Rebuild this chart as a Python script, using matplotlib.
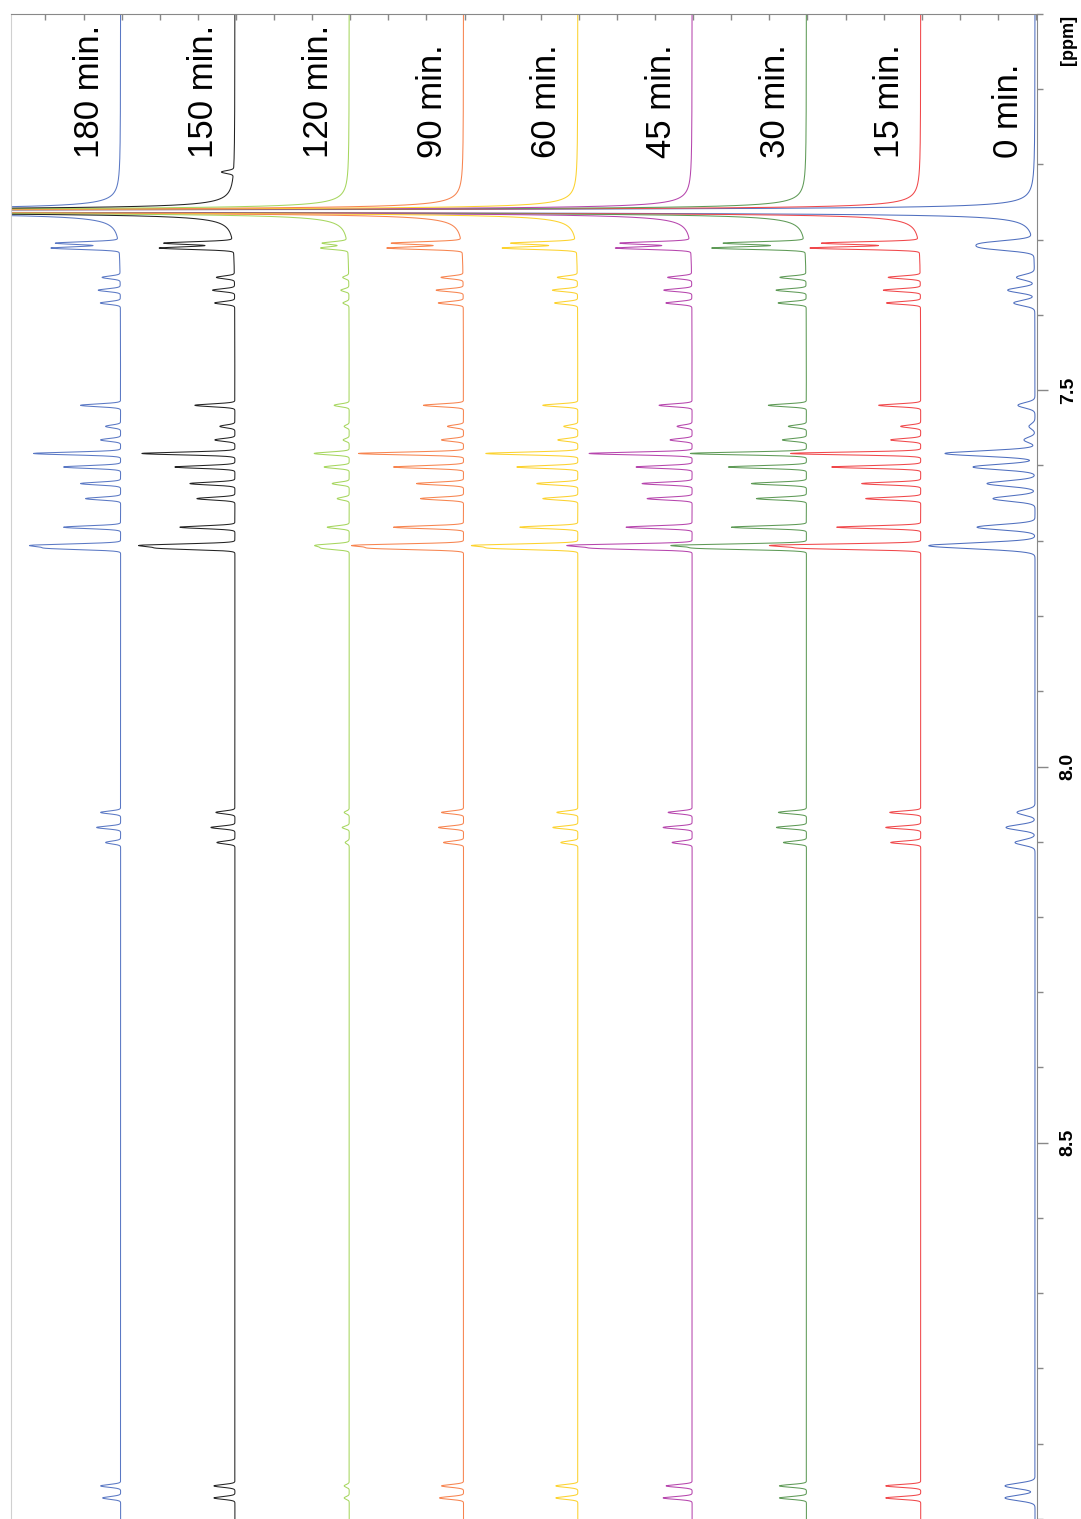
# Spectres RMN 1H empilés (suivi cinétique), tracé tourné de 90°
import numpy as np
import matplotlib
matplotlib.use('Agg')
import matplotlib.pyplot as plt
import matplotlib.transforms as mtransforms

# étiquettes et couleurs des spectres (de droite à gauche)
labels = ['0 min.', '15 min.', '30 min.', '45 min.', '60 min.',
          '90 min.', '120 min.', '150 min.', '180 min.']
couleurs = ['#4f6fbf', '#f0474a', '#5e9a56', '#b645ad', '#fcd22e',
            '#f7844f', '#a6d65e', '#222222', '#5a78c4']

# signal du solvant (CDCl3)
solvant_ppm = 7.262
solvant_h = [4000, 4000, 4000, 4000, 4000, 4000, 4000, 4000, 4000]

# déplacements chimiques des pics (ppm)
pics_ppm = [7.210, 7.3045, 7.311, 7.350, 7.367, 7.384, 7.520, 7.548, 7.566,
            7.584, 7.602, 7.624, 7.644, 7.682, 7.706, 7.710,
            8.061, 8.081, 8.101, 8.956, 8.972]

# hauteurs, pour chaque spectre
h_0 = [0, 44, 44, 18, 27, 21, 17, 6, 11, 90, 62, 48, 42, 58, 92, 25, 18, 29, 20, 30, 30]
h_15 = [0, 97, 109, 32, 37, 34, 42, 20, 30, 130, 89, 59, 55, 84, 140, 109, 31, 35, 30, 35, 35]
h_30 = [0, 81, 93, 26, 30, 28, 38, 18, 24, 116, 78, 55, 50, 75, 125, 101, 28, 30, 23, 27, 27]
h_45 = [0, 70, 75, 24, 28, 26, 33, 15, 22, 103, 56, 50, 45, 66, 116, 90, 24, 29, 20, 26, 29]
h_60 = [0, 65, 74, 20, 25, 23, 35, 14, 20, 92, 61, 41, 35, 58, 98, 80, 21, 25, 17, 22, 22]
h_90 = [0, 70, 75, 22, 27, 25, 40, 16, 22, 105, 70, 47, 43, 70, 103, 85, 22, 25, 20, 22, 24]
h_120 = [0, 25, 27, 6, 8, 6, 15, 5, 6, 35, 25, 17, 12, 22, 32, 25, 5, 7, 4, 5, 5]
h_150 = [12, 69, 74, 18, 22, 20, 40, 15, 20, 93, 60, 45, 38, 55, 89, 70, 19, 24, 18, 21, 21]
h_180 = [0, 63, 68, 18, 22, 20, 40, 15, 20, 87, 57, 40, 35, 57, 84, 68, 20, 24, 15, 20, 18]
hauteurs = [h_0, h_15, h_30, h_45, h_60, h_90, h_120, h_150, h_180]

# largeurs de raie (ppm)
sigmas = [0.0035, 0.0018, 0.0018, 0.0018, 0.0018, 0.0018, 0.0018, 0.0018, 0.0018]
largeur_solvant = [0.001, 0.001, 0.001, 0.001, 0.001, 0.001, 0.001, 0.001, 0.001]

# graduations de l'axe ppm
ticks_ppm = [7.5, 8.0, 8.5]
ticks_txt = ['7.5', '8.0', '8.5']

# paramètres du tracé
decalage = 114.3   # écart entre spectres
ppm = np.linspace(7.0, 9.0, 20001)


def lorentz(x, x0, h, w):
    return h * w**2 / ((x - x0)**2 + w**2)


def gauss(x, x0, h, s):
    return h * np.exp(-0.5 * ((x - x0) / s)**2)


fig = plt.figure(figsize=(10.81, 15.19), dpi=100)
ax = fig.add_axes([11/1081, 0.0, 1026/1081, 1505/1519])

for k in range(len(labels)):
    spectre = lorentz(ppm, solvant_ppm, solvant_h[k], largeur_solvant[k])
    for p, h in zip(pics_ppm, hauteurs[k]):
        spectre = spectre + gauss(ppm, p, h, sigmas[k])
    base = 2 + decalage * k
    ax.plot(base + spectre, ppm, color=couleurs[k], lw=0.75)
    dx = 27 if k == 0 else 31
    ax.text(base + dx, 7.191, labels[k], rotation=90, ha='center', va='bottom',
            fontsize=25, family='Liberation Sans')

ax.set_xlim(1026, 0)
ax.set_ylim(9.0, 7.0)

# axe ppm à droite
ax.yaxis.tick_right()
ax.set_yticks(ticks_ppm)
ax.set_yticks(np.arange(7.0, 9.01, 0.1), minor=True)
ax.tick_params(axis='y', which='major', direction='out', length=8,
               width=1, color='#888888', labelright=False)
ax.tick_params(axis='y', which='minor', direction='out', length=4.5,
               width=1, color='#888888')
trans = mtransforms.blended_transform_factory(ax.transAxes, ax.transData)
for t, s in zip(ticks_ppm, ticks_txt):
    ax.text(1.0305, t, s, transform=trans, rotation=90, ha='center',
            va='center', fontweight='bold', fontsize=14,
            family='Liberation Sans')

# axe d'intensité en haut, sans étiquettes
ax.xaxis.tick_top()
ax.set_xticks(np.arange(1, 1026, 38.1))
ax.tick_params(axis='x', direction='in', length=4, width=1,
               color='#888888', labeltop=False)

ax.spines['bottom'].set_visible(False)
ax.spines['left'].set_color('#d0d0d0')
ax.spines['top'].set_color('#888888')
ax.spines['right'].set_color('#888888')

ax.text(1.0305, 0.983, '[ppm]', transform=ax.transAxes, rotation=90,
        ha='center', va='center', fontweight='bold', fontsize=13,
        family='Liberation Sans')

fig.savefig('out.png', dpi=100)
